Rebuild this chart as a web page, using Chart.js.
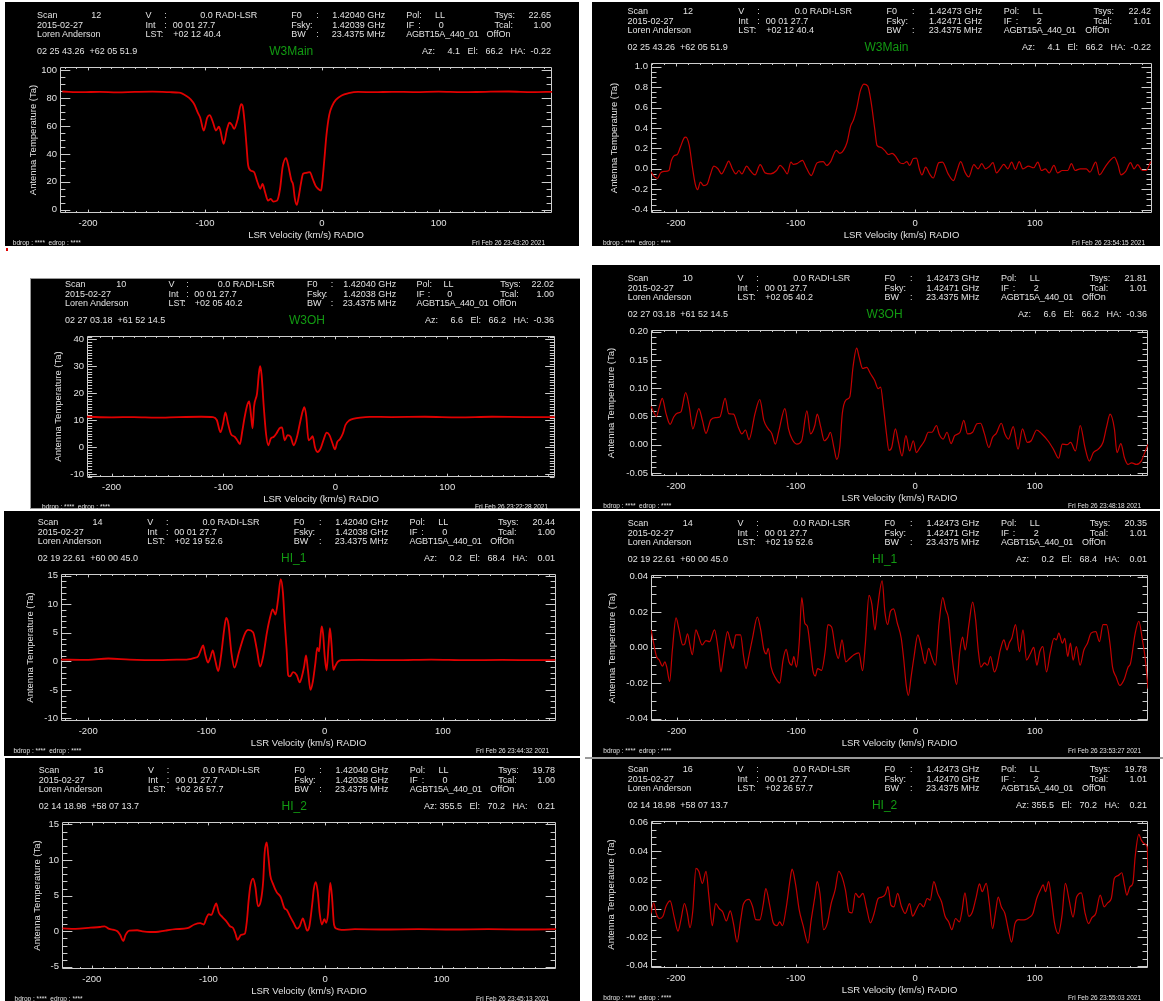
<!DOCTYPE html>
<html>
<head>
<meta charset="utf-8">
<title>GBT HI spectra</title>
<script src="https://cdn.jsdelivr.net/npm/chart.js@4.4.1/dist/chart.umd.min.js"></script>
<style>
  html, body { margin: 0; padding: 0; background: #fff; }
  #page { position: relative; width: 1163px; height: 1001px; overflow: hidden; background: #fff;
          font-family: "Liberation Sans", Arial, sans-serif; }
  .panel { position: absolute; background: #000; overflow: hidden; }
  .panel canvas { position: absolute; left: 0; top: 0; }
  .t { position: absolute; color: #e2e2e2; font-size: 9px; line-height: 10px; white-space: pre;
       transform: translateY(-50%); }
  .r { transform: translate(-100%, -50%); }
  .c { transform: translate(-50%, -50%); }
  .tight { letter-spacing: -0.25px; }
  .src { color: #129a12; font-size: 12px; line-height: 14px; }
  .foot { font-size: 6.5px; line-height: 8px; }
</style>
</head>
<body>
<div id="page"></div>
<script>
// W3Main, IF 0 (1.42040 GHz)
const w3mainIf0Vel = [-222,-205,-190,-175,-160,-145,-130,-122,-115.5,-112,-109,-106,-104,-101,-98,-96,-93,-90.6,-88,-86.8,
  -84,-81,-79,-77,-75,-72,-69,-67.6,-66,-64.4,-63,-60.6,-58,-55,-52.6,-50.7,-48.5,-46,-43.7,-41.5,
  -38.3,-35.7,-33.5,-30.6,-28.7,-26,-24.5,-23,-21.4,-19.8,-17.9,-16,-12.8,-10.2,-7.7,-5.4,-3.2,-0.6,0.3,2,
  4,6.4,9,12,17,23,31,45,60,80,100,120,140,160,180,198];
const w3mainIf0Ta = [84.8,84.3,84.6,84.2,84.5,84.7,84.3,84.0,81.4,79,75.5,69.5,66,56.8,66,67.8,62.4,56.8,59.5,57,
  47.2,58,62.4,61,58,64.8,75.8,74,62.4,46,31.8,28,27,19.7,15,18.5,12.5,6.5,7.7,5.8,
  6.5,15,30.6,37,31.8,21,17.8,7.7,3.4,9,18.5,25.8,26.5,27,22,17.3,15,13.7,18.5,34,
  53.5,68,74.7,78.8,82,83.6,84.5,84.3,84.6,84.4,84.7,84.3,84.6,84.8,84.4,84.6];

// W3Main, IF 2 (1.42473 GHz)
const w3mainIf2Vel = [-221,-219,-215.6,-213,-210,-206,-204,-201.5,-199,-196.5,-193.4,-191.9,-189,-186.6,-184,-182,-179.7,-177,-174,-171.6,
  -168.4,-165,-162,-159,-156,-153,-150,-147.5,-145,-141,-138,-134,-129.7,-125.6,-121,-116,-113,-110,-107,-104,
  -102,-99,-94.4,-91,-87,-82,-77,-74,-71,-66,-63,-60,-57,-54,-51.6,-49,-46,-43,-39.7,-37,
  -34,-32,-28.7,-25.6,-22.5,-19.4,-16,-13,-10,-7,-4.7,-1.6,1,3.4,5.6,8.7,12,15,19.7,22.8,
  27.5,32,35,38,41.6,44.7,49,52.5,55.6,58.75,62,65,68,71,74,77.5,80.6,83.75,87,90,
  94.7,99,102.5,105.6,108.75,112,116,119,123,127.5,130.6,133.75,138,143,146,151,154,158.75,163,166.5,
  169.7,172,176,180,183,186,190,193,197];
const w3mainIf2Ta = [-0.03,-0.066,-0.095,-0.04,-0.026,-0.017,0.08,0.13,0.14,0.21,0.30,0.31,0.23,0.033,-0.15,-0.205,-0.13,-0.165,-0.15,-0.066,
  0.026,0,-0.05,0.007,0.076,0,-0.05,-0.017,-0.05,0.026,-0.017,-0.06,0.04,-0.04,-0.05,-0.017,0.033,0,-0.05,0.066,
  0.043,0.05,0.083,0.007,-0.066,0.06,0.07,0.033,0.066,0.18,0.15,0.18,0.26,0.42,0.48,0.59,0.76,0.83,0.81,0.66,
  0.40,0.23,0.21,0.18,0.14,0.15,0.115,0.06,0.05,0.07,0.033,0.1,0.105,0,-0.06,0.017,-0.05,-0.09,0.06,0.066,
  -0.05,-0.115,-0.017,0.07,-0.033,-0.08,0.04,0,0.05,0,0.023,0.06,-0.04,0,0.043,0,0.066,-0.007,0.07,0,
  0.026,0.01,0.066,-0.017,0,-0.04,0.033,-0.04,-0.017,-0.017,0.05,-0.017,0,0,-0.033,0.066,-0.06,0.017,0.083,0.115,
  0.033,-0.06,-0.026,0.06,0,0.04,-0.017,-0.017,0.07];

// W3OH, IF 0
const w3ohIf0Vel = [-222,-200,-180,-160,-140,-120,-109.3,-106,-102.7,-100.3,-98.3,-96,-93.3,-90,-87.7,-85.3,-83.3,-81,-78.7,-77,
  -75.3,-74,-72.7,-70,-68.3,-67.3,-66,-64,-62,-60,-57.7,-55,-52.7,-50,-47.7,-45.3,-42.7,-40,-37.3,-34.3,
  -31.7,-29.3,-27.7,-26,-24,-22,-20.3,-18.3,-16,-13.3,-10.7,-7.7,-5.3,-2.7,-0.3,1.7,4,6.7,9,12.3,
  16.7,22.3,30.7,50,80,110,140,170,196];
const w3ohIf0Ta = [11.3,11.1,11.2,11.0,11.2,11.3,11.2,10.1,5.6,8.9,12.9,8.9,4.9,3.9,2.6,1.2,5.75,11.4,15.75,17,
  11.4,7,15,20,27.6,30,27,15,5.1,0.75,3.25,3.9,5.1,7,7.4,2.6,4.5,3.9,0.75,3.9,
  8.9,13.25,14.9,11.4,2.6,3.25,4.1,0.1,-1.75,-0.5,2.6,5.4,4.5,1.6,-0.75,2,3,5.1,8.25,9.9,
  10.6,11,11.25,11.2,11.3,11.1,11.3,11.2,11.2];

// W3OH, IF 2
const w3ohIf2Vel = [-221,-218.75,-216.6,-214,-211.6,-208.4,-205,-202,-199,-196,-192,-189,-186,-181,-178,-175,-171,-167,-163.4,-159,
  -156,-152,-148,-145,-142,-139,-134,-130,-126.6,-123,-120,-117,-114,-109,-106,-103,-99,-95,-90.6,-87.5,
  -84,-82,-79,-76,-73,-71,-68,-65.6,-63,-61,-58,-54.7,-52,-49,-47,-44,-40.6,-37.5,-34,-31,
  -29,-26.6,-24,-22,-19.7,-16.6,-14,-11,-7.8,-4.7,-1.6,1,4,7.8,11,14,17.8,20,23.4,26.6,
  30,33,37.5,40.6,43.75,48,51.6,54.7,57.8,61.6,64.7,67.8,72,75,78,82,86,89.7,93.75,97,
  101.6,106,111,115.6,120,123,127,130,134,138,142,145.6,149,153,157,160,163,166.6,168.75,172,
  175,178,181,185,189,192,194.7];
const w3ohIf2Ta = [0.068,0.058,0.05,0.067,0.082,0.055,0.036,0.049,0.056,0.058,0.092,0.067,0.028,0.064,0.043,0.02,0.044,0.048,0.049,0.082,
  0.055,0.054,0.031,0.019,0.026,0.009,0.055,0.08,0.043,0.028,0.02,0.001,0.025,0.064,0.028,0.01,0.001,0.007,0.06,0.019,
  0.034,0.054,0.031,0.007,0.013,0.022,-0.005,-0.026,-0.002,0.055,0.079,0.085,0.138,0.171,0.156,0.135,0.137,0.126,0.114,0.099,
  0.102,0.067,0.019,-0.01,-0.005,0.028,0.004,-0.02,0.016,-0.011,0.007,-0.014,-0.005,0.007,0.022,0.022,0.034,0.019,0.01,0.022,
  0.002,0.016,0.022,0.043,0.019,0.022,0.037,0.038,0.02,-0.005,0.013,0.02,0.038,0.019,0.01,0.032,-0.008,0.028,0.004,0.007,
  0.026,0.019,0.007,-0.008,-0.024,0.001,0,0.004,-0.011,0.034,-0.005,-0.029,-0.014,-0.008,0.004,0.031,0.054,0.028,-0.014,0.002,
  -0.023,-0.035,-0.032,-0.035,-0.029,-0.014,0.001];

// HI_1, IF 0
const hi1If0Vel = [-223,-200,-183,-165,-140,-125,-116.7,-113.6,-110,-107,-104.7,-102.8,-101,-98.7,-96.8,-94.6,-92.7,-90,-87.7,-85,
  -83.3,-81.4,-78.9,-76.3,-72.6,-67.8,-64.7,-60.6,-57.4,-54.6,-52,-48.9,-45.7,-44,-41.6,-39.4,-37.2,-35.3,-33.8,-32.2,
  -30.9,-29.3,-26.8,-23.7,-21.1,-19.6,-17.4,-15.8,-14.2,-12,-10,-7.9,-6.3,-4.7,-3.8,-2.5,-1.3,0,1.6,3.2,
  4.4,5.7,7.3,8.8,11,14,30,60,90,120,150,180,195];
const hi1If0Ta = [0.3,0.25,0.5,0.3,0.2,0.3,0.3,0.4,0.6,0.9,2.0,2.8,1.2,-0.2,0.6,1.9,0.3,-1.7,0.9,5.6,
  7.6,6.5,1.5,-1.1,1.5,4.7,5.5,5.1,2.1,-0.9,0.9,5.0,8.1,9.1,8.2,10.9,14.4,12,6.8,2.1,
  -2.4,-2.65,-1.9,-2.4,-3.7,-2.9,-0.9,1.05,-1.5,-5.0,-3.5,-0.3,2.35,1.75,3.8,6.1,4.7,0.9,-1.6,2.6,
  5.8,3.2,-1.5,-0.9,-0.1,0.2,0.25,0.2,0.3,0.2,0.25,0.2,0.25];

// HI_1, IF 2
const hi1If2Vel = [-221.5,-219.4,-217,-214.7,-212,-210,-208.4,-206,-203.7,-200.6,
  -198.4,-195,-193.4,-191,-189,-187,-184,-182,-178.75,-175.6,
  -172.5,-168.4,-165,-163,-161,-157.5,-155,-152.8,-150.6,-146.6,
  -144,-142,-139.7,-136.6,-132.5,-129.7,-127,-125,-123.4,-121,
  -117,-113.75,-111,-108.4,-106,-103.75,-102,-99.7,-97.5,-95.3,
  -92.8,-90.6,-88,-86,-84,-82,-78.75,-75.6,-73.4,-70.3,
  -67,-64.7,-61.6,-58.4,-55,-51.6,-47.5,-44.4,-42,-39,
  -36.6,-34,-32,-28,-25.6,-23.4,-21,-18.4,-15.3,-12,
  -10,-7.8,-6,-3.75,-1.25,1.9,5,8,11,13.4,
  16.6,19.7,22.8,25.3,27.5,30,32,34.4,36.9,39.4,
  41.6,44.7,47.8,50.3,52.5,54.7,57.8,60.3,62.8,66,
  68,71,74,76.6,78.4,80.6,83.75,87,90,93,
  96,99,101.6,104,106.6,109.7,112.8,116,118,120,
  123,125,127.5,129.7,132,134.7,137.8,141,144,147,
  151,154,157,160,163,165,168,171,175,178,
  180,184,187,190,192.5,194.7];
const hi1If2Ta = [0.010,0.0025,-0.005,-0.007,-0.0105,-0.008,-0.011,-0.019,-0.0013,0.0168,
  0.011,0.0015,0.002,0.0078,0.0015,-0.004,0.010,0.007,0.0015,0.004,
  0.0034,0.010,-0.003,-0.0137,-0.005,0.009,0.0034,-0.0004,0.0072,0.0072,
  -0.005,-0.0118,-0.005,0.0053,0.0173,0.010,-0.0013,-0.0036,-0.0004,-0.011,
  -0.0175,-0.02,-0.007,-0.001,-0.008,-0.0099,-0.005,-0.011,0.0025,0.0282,
  0.0139,0.012,-0.0013,-0.0128,-0.016,-0.0118,-0.0128,-0.0013,0.013,0.0116,
  -0.0013,-0.006,0.0044,-0.008,-0.006,-0.004,-0.003,-0.013,0.0025,0.0295,
  0.0244,0.010,0.0215,0.0377,0.0196,0.013,0.0206,0.0219,0.0139,0.0053,
  -0.006,-0.0213,-0.027,-0.0166,-0.005,0.0072,-0.0004,-0.009,-0.0004,-0.005,
  -0.0099,0.0139,0.0282,0.0215,0.0168,-0.0013,-0.0128,-0.0208,-0.003,0.0059,
  -0.0013,0.013,0.0257,0.0158,-0.0013,-0.011,-0.0086,-0.0099,-0.005,-0.0137,
  -0.011,-0.0013,0.0044,-0.0013,0.0025,0.0053,0.013,-0.0023,0.010,-0.007,
  -0.0036,0.0002,-0.0099,-0.0023,0.0006,-0.0137,-0.003,0.0053,0.0044,0.0082,
  0.0025,0.0053,-0.005,0.0025,-0.007,0.0006,-0.0099,-0.0013,0.0025,0.0082,
  0.009,0.0034,0.013,0.013,0.0015,-0.011,-0.0166,-0.0213,-0.0175,-0.011,
  -0.009,0.0082,0.0149,0.0044,-0.007,-0.0232];

// HI_2, IF 0
const hi2If0Vel = [-225,-214,-201,-193,-189,-185,-182,-178,-175.7,-173,
  -171,-167.7,-161,-156.5,-150,-145,-137,-128,-118,-112,
  -107,-104,-101.6,-99.7,-97.4,-95,-93.3,-91,-88,-84.7,
  -81.5,-79,-77,-75,-72,-68.7,-67,-65.5,-64,-61.7,
  -59.7,-57.5,-55,-53,-51.8,-50,-48.6,-47,-44.7,-41.5,
  -38,-35,-32.6,-30,-27,-24,-21.7,-19,-17.6,-15.3,
  -13.4,-11,-9.6,-8,-6.4,-4.5,-2.6,-0.6,1,2.5,
  4.5,6,7.7,9.6,14,25.6,50,80,110,140,
  170,198];
const hi2If0Ta = [0.4,0.33,0.5,0.6,0.7,0.33,0.24,0,-0.5,-1.35,
  -0.5,0.1,0.14,0,-0.1,-0.1,0.1,0.29,0.43,0.95,
  1.14,0.95,1.9,2.4,2.3,3.33,3.9,2.6,2.0,1.43,
  0.7,0.5,-0.24,-1.2,-0.5,-0.33,1.43,4.3,6.4,7.4,
  6.2,3.5,4.3,7.1,11,12.5,10.5,7.9,6.7,5.5,
  4.8,3.3,2.95,2.1,1.2,0.38,0.7,1.8,1.2,0.1,
  0.7,3.8,5.95,6.9,5.7,2.4,0.95,1.7,1.2,2.4,
  6.8,4.8,0.95,0.38,0.2,0.29,0.25,0.3,0.25,0.3,
  0.25,0.3];

// HI_2, IF 2
const hi2If2Vel = [-221,-218.75,-216.6,-214,-211,-208.4,-205,-201.6,-198.4,-196,
  -193,-190.6,-188.4,-186,-183.4,-181,-178,-175,-172.5,-169.7,
  -167,-164,-161,-158,-154.7,-152,-149,-146,-143.75,-139,
  -136,-133.4,-130,-127,-125,-122,-118.75,-115.6,-113.4,-111,
  -107.8,-104.7,-103,-100,-97,-93.75,-89.7,-87,-84,-82,
  -79.7,-76.6,-73.4,-70.3,-67,-64,-61.6,-58.4,-55.3,-52.8,
  -50,-47,-43.75,-40.6,-37.5,-34.4,-31,-28,-25,-22.8,
  -20.3,-17.8,-14.7,-11.6,-8.4,-4.7,-2.2,1,4,7,
  10,12.5,15.6,18.75,22,25,28,30.6,33.75,37,
  39,41.6,44.7,47.8,51,53.75,56,59.4,62,64.7,
  67,69.4,72,75,78,80.6,83.4,86.6,89.7,92,
  95,98.4,101.6,104.7,107,109,111.6,114,116.6,119.7,
  122.8,125.6,128.75,132,135,139,142,145,147.8,151,
  154.7,158,161,164,166.6,169.7,172.8,175,177,179.7,
  182,184,187,189,191.5,194,194.7];
const hi2If2Ta = [-0.0035,0.004,-0.0035,-0.007,-0.0054,0.0016,0.0054,-0.006,-0.0158,-0.008,
  0.0035,-0.0035,-0.0134,-0.0012,0.028,0.026,0.0176,0.026,0.008,-0.012,
  0.0035,0,-0.0024,-0.0087,-0.0016,-0.0106,-0.0235,-0.008,0.003,0.0064,
  0.0012,-0.0078,-0.008,0.0035,0.014,0.0035,-0.01,-0.012,-0.0094,-0.012,
  0.0012,0.02,0.0275,0.0165,-0.0012,-0.012,-0.0242,-0.008,0.008,0.0188,
  0.0106,-0.0148,-0.01,0.0035,0.013,0.026,0.023,0.013,-0.0024,-0.003,
  0.0106,0.0078,0.0106,0,-0.01,-0.0035,0.007,0.008,0.01,0.0153,
  0.0024,0.0012,0.0106,0.0016,-0.0035,0.0035,-0.0054,-0.0007,0.0035,0.0012,
  0.007,0.0059,0.0188,0.0106,0.0047,-0.0054,-0.0094,-0.0148,-0.007,-0.0094,
  -0.0024,0.011,-0.0054,-0.0024,0.008,0.0172,0.0118,0.0176,0.0035,-0.0141,
  -0.0035,0.008,0.0012,-0.0035,-0.0153,-0.0235,-0.0106,-0.0078,-0.008,-0.0078,
  -0.0064,-0.0035,0.007,0.013,0.0165,0.0118,0.0188,0.0059,-0.0106,-0.0176,
  -0.0047,0.0176,0.0059,-0.006,0.008,0.011,-0.003,-0.0106,-0.0064,-0.0035,
  0.0094,0.0012,0.004,0.007,0.0212,0.023,0.025,0.0165,0.0094,0.0153,
  0.0176,0.0365,0.0518,0.048,0.0454,0.043,0.027];

// axis ranges and ticks, one entry per panel (left column IF 0, right column IF 2)
const velRanges = [[-224,197],[-221,198],[-222,196.3],[-221,194.7],[-223,195.6],[-221.6,194.7],[-225.5,198],[-221,194.7]];
const taRanges = [[-2.4,102.4],[-0.433,1.036],[-11,41.2],[-0.0554,0.203],[-10.45,15.3],[-0.0414,0.041],[-5.3,15.35],[-0.0416,0.0612]];
const velTickStep = 100;
const velMinorStep = 10;
const taTickSteps = [20, 0.2, 10, 0.05, 5, 0.02, 5, 0.02];
const taMinorSteps = [5, 0.05, 1, 0.01, 1, 0.005, 1, 0.005];
const taDecimals = [0, 1, 0, 2, 0, 2, 0, 2];

const seriesVel = [w3mainIf0Vel, w3mainIf2Vel, w3ohIf0Vel, w3ohIf2Vel, hi1If0Vel, hi1If2Vel, hi2If0Vel, hi2If2Vel];
const seriesTa = [w3mainIf0Ta, w3mainIf2Ta, w3ohIf0Ta, w3ohIf2Ta, hi1If0Ta, hi1If2Ta, hi2If0Ta, hi2If2Ta];

// header text of each GBTIDL plot
const headers = [
  { scan: '12', f0: '1.42040', fsky: '1.42039', ifn: '0', tsys: '22.65', tcal: '1.00', lst: '+02 12 40.4',
    radec: '02 25 43.26  +62 05 51.9', source: 'W3Main', az: '4.1', el: '66.2', ha: '-0.22', stamp: 'Fri Feb 26 23:43:20 2021' },
  { scan: '12', f0: '1.42473', fsky: '1.42471', ifn: '2', tsys: '22.42', tcal: '1.01', lst: '+02 12 40.4',
    radec: '02 25 43.26  +62 05 51.9', source: 'W3Main', az: '4.1', el: '66.2', ha: '-0.22', stamp: 'Fri Feb 26 23:54:15 2021' },
  { scan: '10', f0: '1.42040', fsky: '1.42038', ifn: '0', tsys: '22.02', tcal: '1.00', lst: '+02 05 40.2',
    radec: '02 27 03.18  +61 52 14.5', source: 'W3OH', az: '6.6', el: '66.2', ha: '-0.36', stamp: 'Fri Feb 26 23:22:28 2021' },
  { scan: '10', f0: '1.42473', fsky: '1.42471', ifn: '2', tsys: '21.81', tcal: '1.01', lst: '+02 05 40.2',
    radec: '02 27 03.18  +61 52 14.5', source: 'W3OH', az: '6.6', el: '66.2', ha: '-0.36', stamp: 'Fri Feb 26 23:48:18 2021' },
  { scan: '14', f0: '1.42040', fsky: '1.42038', ifn: '0', tsys: '20.44', tcal: '1.00', lst: '+02 19 52.6',
    radec: '02 19 22.61  +60 00 45.0', source: 'HI_1', az: '0.2', el: '68.4', ha: '0.01', stamp: 'Fri Feb 26 23:44:32 2021' },
  { scan: '14', f0: '1.42473', fsky: '1.42471', ifn: '2', tsys: '20.35', tcal: '1.01', lst: '+02 19 52.6',
    radec: '02 19 22.61  +60 00 45.0', source: 'HI_1', az: '0.2', el: '68.4', ha: '0.01', stamp: 'Fri Feb 26 23:53:27 2021' },
  { scan: '16', f0: '1.42040', fsky: '1.42038', ifn: '0', tsys: '19.78', tcal: '1.00', lst: '+02 26 57.7',
    radec: '02 14 18.98  +58 07 13.7', source: 'HI_2', az: '355.5', el: '70.2', ha: '0.21', stamp: 'Fri Feb 26 23:45:13 2021' },
  { scan: '16', f0: '1.42473', fsky: '1.42470', ifn: '2', tsys: '19.78', tcal: '1.01', lst: '+02 26 57.7',
    radec: '02 14 18.98  +58 07 13.7', source: 'HI_2', az: '355.5', el: '70.2', ha: '0.21', stamp: 'Fri Feb 26 23:55:03 2021' }
];

// page layout: black screenshot frames and the plot boxes inside them (page pixels)
const frames = [[5,2,574,244],[592,2,568,244],[30,278,550,231],[592,265,568,244],[4,511,576,245],[592,511,568,246],[5,758,575,243],[592,759,568,242]];
const boxes = [[60,67,552,213],[651,63,1152,213],[87,336,555,477],[651,330,1148,476],[61,574,556,721],[651,575,1148,721],[62,822,556,969],[651,821,1148,968]];
const yTitleOffsets = [-27,-37,-29,-40,-31,-39,-25,-40];

const textColor = '#e2e2e2';
const axisColor = '#cdcdcd';
const fontFamily = '"Liberation Sans", Arial, sans-serif';
const page = document.getElementById('page');

// IDL style box: frame on all four sides with inward major/minor ticks
const idlFrame = {
  id: 'idlFrame',
  beforeDatasetsDraw(chart, args, opts) {
    const { ctx, chartArea: a, scales: { x, y } } = chart;
    const left = Math.round(a.left) + 0.5, right = Math.round(a.right) - 0.5;
    const top = Math.round(a.top) + 0.5, bottom = Math.round(a.bottom) - 0.5;
    const xLen = 0.02 * (bottom - top), yLen = 0.02 * (right - left);
    const isMajor = (v, step) => Math.abs(v / step - Math.round(v / step)) < 1e-6;
    ctx.save();
    ctx.strokeStyle = axisColor;
    ctx.lineWidth = 1;
    ctx.beginPath();
    ctx.rect(left, top, right - left, bottom - top);
    for (let i = Math.ceil(x.min / opts.xMinor); i * opts.xMinor <= x.max; i++) {
      const v = i * opts.xMinor;
      const px = Math.round(x.getPixelForValue(v)) + 0.5;
      const len = isMajor(v, opts.xMajor) ? xLen : xLen / 2;
      ctx.moveTo(px, bottom); ctx.lineTo(px, bottom - len);
      ctx.moveTo(px, top); ctx.lineTo(px, top + len);
    }
    for (let i = Math.ceil(y.min / opts.yMinor - 1e-9); i * opts.yMinor <= y.max + 1e-12; i++) {
      const v = i * opts.yMinor;
      const py = Math.round(y.getPixelForValue(v)) + 0.5;
      const len = isMajor(v, opts.yMajor) ? yLen : yLen / 2;
      ctx.moveTo(left, py); ctx.lineTo(left + len, py);
      ctx.moveTo(right, py); ctx.lineTo(right - len, py);
    }
    ctx.stroke();
    ctx.restore();
  }
};

function put(el, fr, text, x, y, cls) {
  const s = document.createElement('span');
  s.className = 't' + (cls ? ' ' + cls : '');
  s.textContent = text;
  s.style.left = (x - fr[0]) + 'px';
  s.style.top = (y - fr[1]) + 'px';
  el.appendChild(s);
}

// fixed-width field like IDL's format, two spaces per missing character
const pad = (s, n) => ' '.repeat(Math.max(0, 2 * (n - s.length))) + s;

function drawHeader(el, fr, bx, h) {
  const [L, T, R, B] = bx;
  const W = R - L;
  const X = f => L + f * W;
  const r1 = T - 52, r2 = T - 42.5, r3 = T - 33, r4 = T - 16;

  put(el, fr, 'Scan', X(-0.047), r1);
  put(el, fr, h.scan, X(0.084), r1, 'r');
  put(el, fr, 'V', X(0.174), r1);
  put(el, fr, ':', X(0.212), r1);
  put(el, fr, '0.0 RADI-LSR', X(0.401), r1, 'r');
  put(el, fr, 'F0', X(0.47), r1);
  put(el, fr, ':', X(0.521), r1);
  put(el, fr, h.f0 + ' GHz', X(0.661), r1, 'r');
  put(el, fr, 'Pol:', X(0.704), r1);
  put(el, fr, 'LL', X(0.762), r1);
  put(el, fr, 'Tsys:', X(0.883), r1);
  put(el, fr, h.tsys, R - 1, r1, 'r');

  put(el, fr, '2015-02-27', X(-0.047), r2);
  put(el, fr, 'Int', X(0.174), r2);
  put(el, fr, ':', X(0.212), r2);
  put(el, fr, '00 01 27.7', X(0.229), r2);
  put(el, fr, 'Fsky', X(0.47), r2);
  put(el, fr, ':', X(0.508), r2);
  put(el, fr, h.fsky + ' GHz', X(0.661), r2, 'r');
  put(el, fr, 'IF', X(0.704), r2);
  put(el, fr, ':', X(0.728), r2);
  put(el, fr, h.ifn, X(0.770), r2);
  put(el, fr, 'Tcal:', X(0.883), r2);
  put(el, fr, h.tcal, R - 1, r2, 'r');

  put(el, fr, 'Loren Anderson', X(-0.047), r3);
  put(el, fr, 'LST', X(0.174), r3);
  put(el, fr, ':', X(0.205), r3);
  put(el, fr, h.lst, X(0.23), r3);
  put(el, fr, 'BW', X(0.47), r3);
  put(el, fr, ':', X(0.521), r3);
  put(el, fr, '23.4375 MHz', X(0.661), r3, 'r');
  put(el, fr, 'AGBT15A_440_01', X(0.704), r3, 'tight');
  put(el, fr, 'OffOn', X(0.867), r3);

  put(el, fr, h.radec, X(-0.047), r4);
  put(el, fr, h.source, X(0.47), r4, 'c src');
  put(el, fr, 'Az: ' + pad(h.az, 5) + '   El: ' + pad(h.el, 5) + '   HA:  ' + pad(h.ha, 5), R - 1, r4, 'r');

  put(el, fr, 'bdrop : ****  edrop : ****', L - 0.096 * W, B + 30, 'foot');
  put(el, fr, h.stamp, R - 7, B + 30, 'foot r');
}

function makePanel(i) {
  const fr = frames[i], bx = boxes[i];
  const [fx, fy, fw, fh] = fr;
  const [L, T, R, B] = bx;
  const el = document.createElement('div');
  el.className = 'panel';
  el.style.left = fx + 'px'; el.style.top = fy + 'px';
  el.style.width = fw + 'px'; el.style.height = fh + 'px';
  const canvas = document.createElement('canvas');
  canvas.width = fw; canvas.height = fh;
  canvas.style.width = fw + 'px'; canvas.style.height = fh + 'px';
  el.appendChild(canvas);
  page.appendChild(el);

  const vel = seriesVel[i], ta = seriesTa[i];
  const n = Math.min(vel.length, ta.length);
  const points = [];
  for (let k = 0; k < n; k++) points.push({ x: vel[k], y: ta[k] });

  const isIf0 = i % 2 === 0;
  const dec = taDecimals[i];
  const tickFont = { family: fontFamily, size: 9.5 };
  const titleLine = 9.5 * 1.2;

  new Chart(canvas, {
    type: 'line',
    data: {
      datasets: [{
        data: points,
        borderColor: isIf0 ? '#e00000' : '#c40000',
        borderWidth: isIf0 ? 1.8 : 1.2,
        pointRadius: 0,
        cubicInterpolationMode: 'monotone',
        fill: false
      }]
    },
    options: {
      responsive: false,
      animation: false,
      devicePixelRatio: 1,
      events: [],
      layout: { padding: { left: 0, top: T - fy, right: fx + fw - R, bottom: 0 } },
      plugins: {
        legend: { display: false },
        tooltip: { enabled: false },
        idlFrame: { xMajor: velTickStep, xMinor: velMinorStep, yMajor: taTickSteps[i], yMinor: taMinorSteps[i] }
      },
      scales: {
        x: {
          type: 'linear',
          min: velRanges[i][0],
          max: velRanges[i][1],
          afterFit: s => { s.height = fy + fh - B; },
          grid: { display: false, drawTicks: false },
          border: { display: false },
          ticks: {
            stepSize: velTickStep, includeBounds: false, autoSkip: false, maxRotation: 0,
            color: textColor, font: tickFont, padding: 5,
            callback: v => String(Math.round(v))
          },
          title: {
            display: true, text: 'LSR Velocity (km/s) RADIO', color: textColor, font: tickFont,
            padding: { top: 0, bottom: fy + fh - (B + 22) - titleLine / 2 }
          }
        },
        y: {
          type: 'linear',
          min: taRanges[i][0],
          max: taRanges[i][1],
          afterFit: s => { s.width = L - fx; },
          grid: { display: false, drawTicks: false },
          border: { display: false },
          ticks: {
            stepSize: taTickSteps[i], includeBounds: false, autoSkip: false,
            color: textColor, font: tickFont, padding: 3,
            callback: v => (Math.abs(v) < 1e-9 ? 0 : v).toFixed(dec)
          },
          title: {
            display: true, text: 'Antenna Temperature (Ta)', color: textColor, font: tickFont,
            padding: { top: L + yTitleOffsets[i] - fx - titleLine / 2, bottom: 0 }
          }
        }
      }
    },
    plugins: [idlFrame]
  });

  drawHeader(el, fr, bx, headers[i]);
  return el;
}

for (let i = 0; i < frames.length; i++) makePanel(i);

// grey screenshot edges and the stray red mark under the first plot
const p3 = page.children[2];
p3.style.boxShadow = 'inset 1px 1px 0 #9a9a9a, inset 0 -1px 0 #9a9a9a';
const edge = document.createElement('div');
edge.style.cssText = 'position:absolute;left:585px;top:757px;width:578px;height:2px;background:#9a9a9a;';
page.appendChild(edge);
const mark = document.createElement('div');
mark.style.cssText = 'position:absolute;left:6px;top:248px;width:2px;height:3px;background:#e00000;';
page.appendChild(mark);
</script>
</body>
</html>
